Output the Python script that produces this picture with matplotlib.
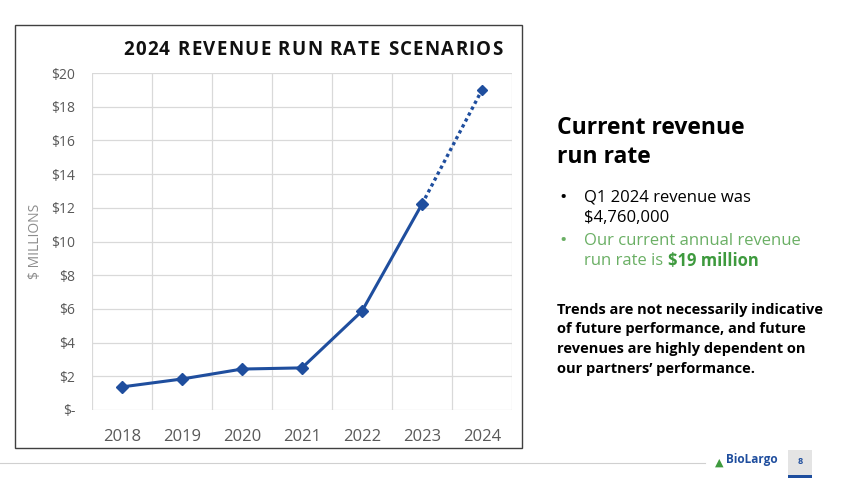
import matplotlib
matplotlib.use('Agg')
import matplotlib.pyplot as plt
from matplotlib.patches import Rectangle
from matplotlib.lines import Line2D

####################
# DATA
####################
years = ['2018', '2019', '2020', '2021', '2022', '2023', '2024']
revenue = [1.37, 1.84, 2.43, 2.50, 5.87, 12.22, 19.0]   # $ millions, 2024 = run rate
yticks = [0, 2, 4, 6, 8, 10, 12, 14, 16, 18, 20]
ytick_labels = ['$-'] + ['$' + str(v) for v in yticks[1:]]
title = '2024 REVENUE RUN RATE SCENARIOS'

# Colours
line_blue = '#1F4E9E'
grid_grey = '#D9D9D9'
tick_grey = '#595959'
green = '#6AAF64'
green_bold = '#3E9A3E'

plt.rcParams['font.family'] = ['Open Sans', 'DejaVu Sans']

W, H = 850, 478
fig = plt.figure(figsize=(W / 100, H / 100), dpi=100)
fig.patch.set_facecolor('white')

def fx(px):
    return px / W

def fy(py):
    return 1 - py / H

# Chart border
fig.patches.append(Rectangle((fx(15), fy(448)), fx(522) - fx(15), fy(25) - fy(448),
                             transform=fig.transFigure, fill=False,
                             edgecolor='#404040', linewidth=1.0))

####################
# CHART
####################
ax = fig.add_axes([fx(92), fy(410), fx(512) - fx(92), fy(73) - fy(410)])
x = list(range(len(years)))

# Actuals (solid) then run-rate extension (dotted)
ax.plot(x[:-1], revenue[:-1], color=line_blue, linewidth=2.2, marker='D',
        markersize=6, zorder=3)
ax.plot(x[-2:], revenue[-2:], color=line_blue, linewidth=2.4, linestyle=(0, (1, 1)),
        zorder=3)
ax.plot(x[-1], revenue[-1], color=line_blue, marker='D', markersize=5, zorder=3)

ax.set_xlim(-0.5, len(years) - 0.5)
ax.set_ylim(0, 20)
ax.set_yticks(yticks)
ax.set_yticklabels(ytick_labels)
ax.set_xticks(x)
ax.set_xticklabels(years)
ax.set_xticks([i - 0.5 for i in range(len(years) + 1)], minor=True)

ax.grid(True, axis='y', color=grid_grey, linewidth=0.9)
ax.grid(True, axis='x', which='minor', color=grid_grey, linewidth=0.9)
ax.grid(False, axis='x', which='major')
for s in ax.spines.values():
    s.set_visible(False)
ax.tick_params(axis='both', which='both', length=0)
ax.tick_params(axis='y', labelsize=10, labelcolor=tick_grey, pad=12)
ax.tick_params(axis='x', labelsize=12, labelcolor=tick_grey, pad=14)
ax.set_axisbelow(True)

ax.set_ylabel('$ MILLIONS', color='#8C8C8C', fontsize=10, labelpad=6)

####################
# RIGHT-HAND TEXT
####################
fig.text(fx(557), fy(128), 'Current revenue', fontsize=16.5, fontweight='bold',
         va='center', color='black')
fig.text(fx(557), fy(157), 'run rate', fontsize=16.5, fontweight='bold',
         va='center', color='black')

fig.text(fx(559), fy(198), '•', fontsize=14, va='center', color='black')
fig.text(fx(584), fy(198), 'Q1 2024 revenue was', fontsize=12, va='center', color='black')
fig.text(fx(584), fy(218), '$4,760,000', fontsize=12, va='center', color='black')
fig.text(fx(559), fy(241), '•', fontsize=14, va='center', color=green)
fig.text(fx(584), fy(241), 'Our current annual revenue', fontsize=12, va='center', color=green)
t_run = fig.text(fx(584), fy(261), 'run rate is ', fontsize=12, va='center', color=green)

fig.canvas.draw()
renderer = fig.canvas.get_renderer()
bb = t_run.get_window_extent(renderer)
fig.text(bb.x1 / W, fy(261), '$19 million', fontsize=12, fontweight='bold',
         va='center', color=green_bold)

# Letter-spaced chart title, spread between x=123 and x=503
chars = [fig.text(0, fy(50), c, fontsize=13.5, fontweight='bold', va='center',
                  color='#111111') for c in title]
widths = [t.get_window_extent(renderer).width if c != ' ' else 0 for t, c in zip(chars, title)]
space_w = fig.text(0, 0, 'A A', fontsize=13.5, fontweight='bold').get_window_extent(renderer).width \
    - fig.text(0, 0, 'AA', fontsize=13.5, fontweight='bold').get_window_extent(renderer).width
fig.texts = fig.texts[:-2]
widths = [w if c != ' ' else space_w for w, c in zip(widths, title)]
extra = (380 - sum(widths)) / (len(title) - 1)
pos = 123
for t, w in zip(chars, widths):
    t.set_x(fx(pos))
    pos += w + extra

notes = ['Trends are not necessarily indicative',
         'of future performance, and future',
         'revenues are highly dependent on',
         'our partners\u2019 performance.']
for i, line in enumerate(notes):
    fig.text(fx(557), fy(310 + i * 19.5), line, fontsize=10.5, fontweight='bold',
             va='center', color='black')

####################
# FOOTER
####################
fig.lines.append(Line2D([0, fx(705)], [fy(463), fy(463)], transform=fig.transFigure,
                        color='#D0D0D0', linewidth=0.8))
fig.patches.append(Rectangle((fx(788), fy(475)), fx(24), fy(450) - fy(475),
                             transform=fig.transFigure, facecolor='#E4E4E4',
                             edgecolor='none'))
fig.patches.append(Rectangle((fx(788), fy(478)), fx(24), fy(475) - fy(478),
                             transform=fig.transFigure, facecolor=line_blue,
                             edgecolor='none'))
fig.text(fx(800), fy(462), '8', fontsize=6.5, fontweight='bold', ha='center',
         va='center', color=line_blue)
fig.text(fx(719), fy(463), '\u25B2', fontsize=8, ha='center', va='center', color='#3E9A3E')
fig.text(fx(726), fy(460), 'BioLargo', fontsize=8.5, fontweight='bold',
         va='center', color=line_blue)

fig.savefig('out.png', dpi=100)
